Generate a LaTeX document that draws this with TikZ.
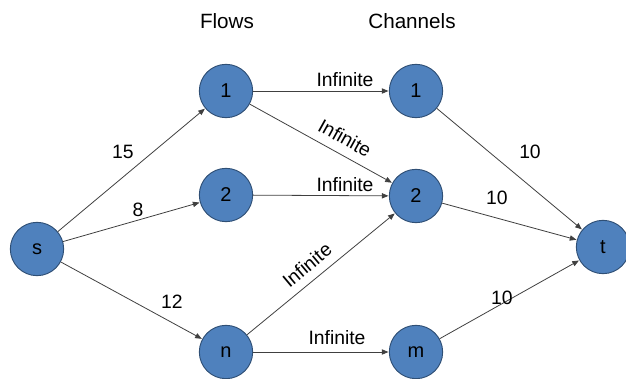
\documentclass[tikz,border=0pt]{standalone}
\usepackage{fontspec}
\setmainfont{Liberation Sans}
\usetikzlibrary{arrows.meta}
\definecolor{nodefill}{HTML}{4F81BD}
\definecolor{nodeedge}{HTML}{2F4F75}
\begin{document}
\begin{tikzpicture}[x=0.75pt,y=-0.75pt,
  vert/.style={circle,draw=nodeedge,line width=0.7pt,fill=nodefill,minimum size=40pt,inner sep=0pt,font=\fontsize{15}{17}\selectfont},
  conn/.style={draw=black!75,line width=0.6pt,-{Triangle[length=5pt,width=4pt]},shorten >=0.3pt},
  lbl/.style={font=\fontsize{14.5}{16}\selectfont,inner sep=0pt},
  head/.style={font=\fontsize{15.5}{18}\selectfont,inner sep=0pt}]
\useasboundingbox (0,0) rectangle (626,379);
\node[vert] (s) at (37,249) {s};
\node[vert] (f1) at (226,91) {1};
\node[vert] (f2) at (226,195) {2};
\node[vert] (fn) at (226,352) {n};
\node[vert] (c1) at (416,91) {1};
\node[vert] (c2) at (416,196) {2};
\node[vert] (cm) at (416,352) {m};
\node[vert] (t) at (603,247) {t};
\node[head] (hf) at (227,21) {Flows};
\node[head] (hc) at (412,21) {Channels};
\draw[conn] (s) -- (f1);
\draw[conn] (s) -- (f2);
\draw[conn] (s) -- (fn);
\draw[conn] (f1) -- (c1);
\draw[conn] (f1) -- (c2);
\draw[conn] (f2) -- (c2);
\draw[conn] (fn) -- (c2);
\draw[conn] (fn) -- (cm);
\draw[conn] (c1) -- (t);
\draw[conn] (c2) -- (t);
\draw[conn] (cm) -- (t);
\node[lbl] (l15) at (123,152) {15};
\node[lbl] (l8) at (138,210) {8};
\node[lbl] (l12) at (172,302) {12};
\node[lbl] (i1) at (345,80) {Infinite};
\node[lbl,rotate=-29] (i2) at (345,138) {Infinite};
\node[lbl] (i3) at (345,185) {Infinite};
\node[lbl,rotate=40] (i4) at (307,265) {Infinite};
\node[lbl] (i5) at (337,338) {Infinite};
\node[lbl] (t1) at (530,152) {10};
\node[lbl] (t2) at (497,198) {10};
\node[lbl] (t3) at (502,298) {10};
\end{tikzpicture}
\end{document}
